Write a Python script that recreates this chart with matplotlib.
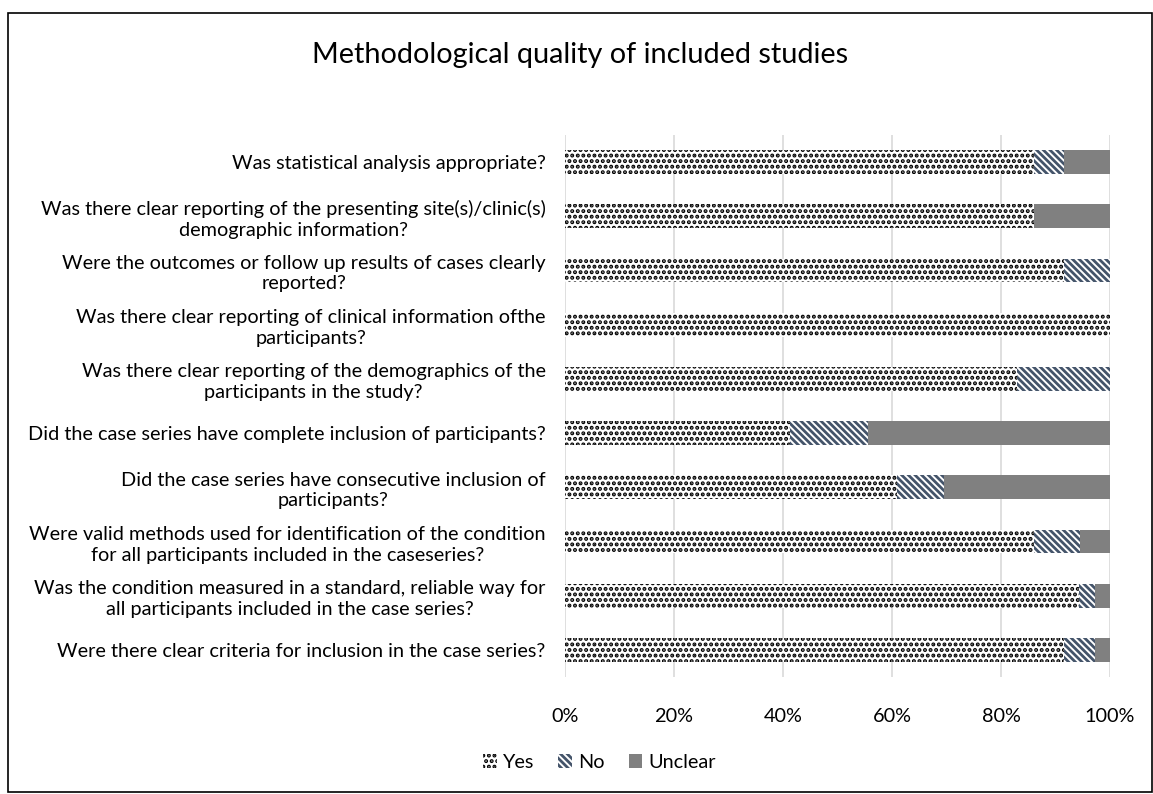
import matplotlib.pyplot as plt
from matplotlib.patches import Rectangle

plt.rcParams['font.family'] = ['Lato', 'DejaVu Sans']
plt.rcParams['hatch.linewidth'] = 2.0

# questions, top row first
questions = [
    "Was statistical analysis appropriate?",
    "Was there clear reporting of the presenting site(s)/clinic(s)\ndemographic information?",
    "Were the outcomes or follow up results of cases clearly\nreported?",
    "Was there clear reporting of clinical information ofthe\nparticipants?",
    "Was there clear reporting of the demographics of the\nparticipants in the study?",
    "Did the case series have complete inclusion of participants?",
    "Did the case series have consecutive inclusion of\nparticipants?",
    "Were valid methods used for identification of the condition\nfor all participants included in the caseseries?",
    "Was the condition measured in a standard, reliable way for\nall participants included in the case series?",
    "Were there clear criteria for inclusion in the case series?",
]
yes = [0.860, 0.860, 0.915, 1.000, 0.830, 0.412, 0.610, 0.860, 0.943, 0.916]
no = [0.056, 0.000, 0.085, 0.000, 0.170, 0.144, 0.085, 0.085, 0.030, 0.057]
unclear = [0.084, 0.140, 0.000, 0.000, 0.000, 0.444, 0.305, 0.055, 0.027, 0.027]
ticks = [0, 0.2, 0.4, 0.6, 0.8, 1.0]
tick_labels = ["0%", "20%", "40%", "60%", "80%", "100%"]

fig = plt.figure(figsize=(11.53, 7.94), dpi=100)
ax = fig.add_axes([565 / 1153, 1 - 677 / 794, 545 / 1153, 542 / 794])

pos = list(range(len(questions)))[::-1]
h = 0.44
left_no = yes
left_un = [a + b for a, b in zip(yes, no)]
ax.barh(pos, yes, height=h, color='white', edgecolor='black', hatch='...',
        linewidth=0, label='Yes')
ax.barh(pos, no, height=h, left=left_no, color='white', edgecolor='#44546A',
        hatch='\\\\\\\\\\', linewidth=0, label='No')
ax.barh(pos, unclear, height=h, left=left_un, color='#808080',
        edgecolor='#808080', linewidth=0, label='Unclear')

fs = 14.3
ax.set_xlim(0, 1)
ax.set_ylim(-0.5, len(questions) - 0.5)
ax.set_xticks(ticks)
ax.set_xticklabels(tick_labels, fontsize=fs)
ax.set_yticks(pos)
ax.set_yticklabels(questions, fontsize=fs, multialignment='center',
                   linespacing=1.25)
ax.tick_params(length=0, pad=14)
ax.tick_params(axis='x', pad=22)
for s in ax.spines.values():
    s.set_visible(False)
ax.xaxis.grid(True, color='#d9d9d9', linewidth=1.2)
ax.set_axisbelow(True)

fig.text(0.503, 1 - 55 / 794, "Methodological quality of included studies",
         ha='center', va='center', fontsize=20.8)
fig.legend(loc='center', bbox_to_anchor=(0.52, 1 - 762 / 794), ncol=3,
           frameon=False, fontsize=fs, handlelength=0.7, handleheight=0.7,
           handletextpad=0.3, columnspacing=1.2)
fig.patches.append(Rectangle((8 / 1153, 2 / 794), 1 - 9 / 1153, 1 - 15 / 794,
                             transform=fig.transFigure, fill=False,
                             edgecolor='black', linewidth=1.2))

plt.savefig("out.png", dpi=100)
